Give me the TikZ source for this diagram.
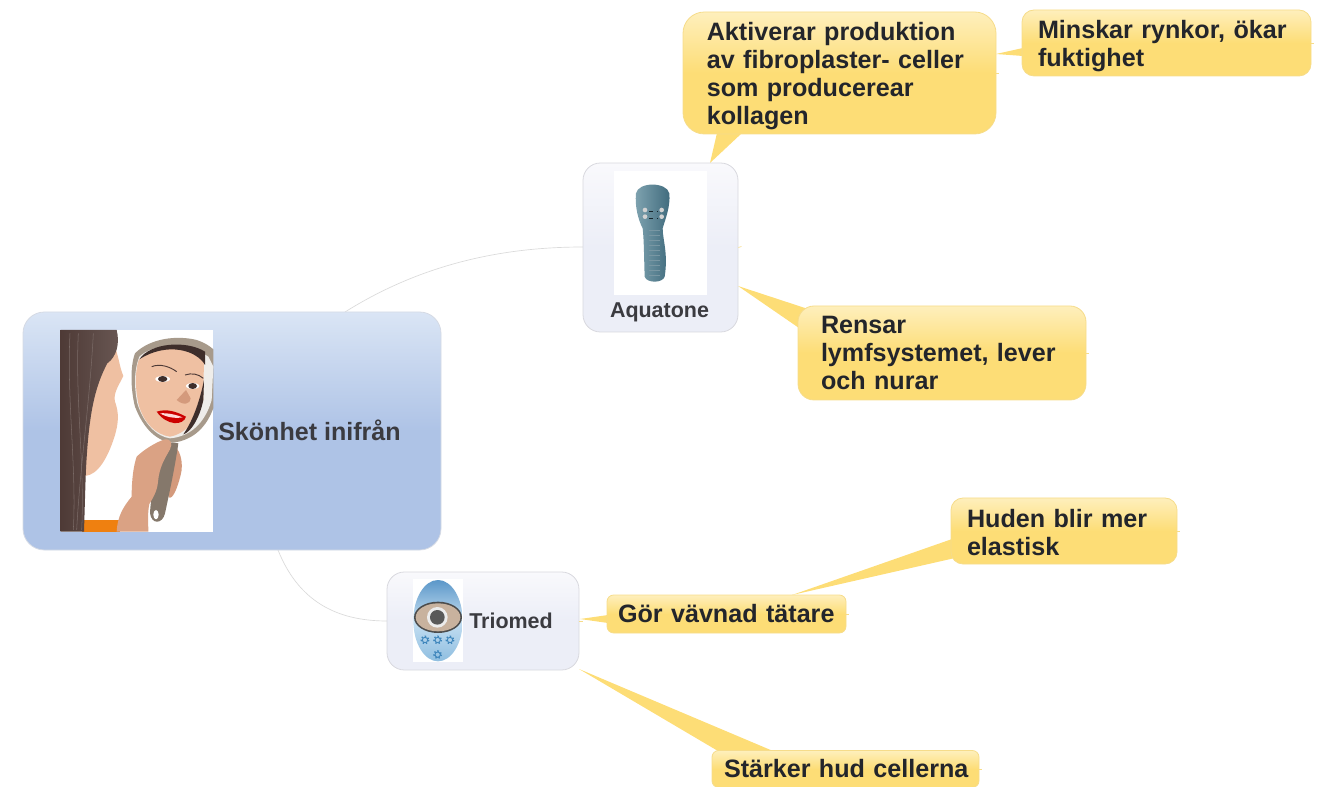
\documentclass[tikz,border=0pt]{standalone}
\usepackage{fontspec}
\setmainfont{Liberation Sans}
\usetikzlibrary{calc}
\definecolor{rootT}{HTML}{DAE5F5}\definecolor{rootB}{HTML}{AEC3E6}
\definecolor{subT}{HTML}{F9F9FC}\definecolor{subB}{HTML}{ECEEF7}
\definecolor{calT}{HTML}{FEEFBC}\definecolor{calB}{HTML}{FDDD76}
\definecolor{calE}{HTML}{F6DC8A}\definecolor{subE}{HTML}{D8D8DE}
\definecolor{rootE}{HTML}{D5DAE4}\definecolor{wire}{HTML}{DADADA}
\definecolor{inkA}{HTML}{3B3B40}\definecolor{inkB}{HTML}{23252B}
\definecolor{skin}{HTML}{EFC0A2}\definecolor{skinD}{HTML}{D49A7C}\definecolor{hairc}{HTML}{4E3A36}\definecolor{hairL}{HTML}{7A6A66}
\definecolor{frame}{HTML}{A79A8B}\definecolor{frameD}{HTML}{85786B}\definecolor{dev}{HTML}{5F8A9A}\definecolor{devL}{HTML}{7FA3B0}\definecolor{devD}{HTML}{3F6A7C}
\definecolor{triT}{HTML}{5B97C9}\definecolor{triM}{HTML}{C5DFF2}\definecolor{triB}{HTML}{8FBEE0}\definecolor{gear}{HTML}{3F86BC}
\pgfdeclareverticalshading{rootsh}{100bp}{color(0bp)=(rootB);color(25bp)=(rootB);color(50bp)=(rootB);color(75bp)=(rootT);color(100bp)=(rootT)}
\pgfdeclareverticalshading{subsh}{100bp}{color(0bp)=(subB);color(25bp)=(subB);color(50bp)=(subB);color(75bp)=(subT);color(100bp)=(subT)}
\pgfdeclareverticalshading{calsh}{100bp}{color(0bp)=(calB);color(25bp)=(calB);color(50bp)=(calB);color(75bp)=(calT);color(100bp)=(calT)}
\tikzset{
 boxbase/.style={rectangle,inner sep=0pt,align=left},
 rootbox/.style={boxbase,shading=rootsh,draw=rootE,line width=.6pt,rounded corners=16pt,minimum width=313.5pt,minimum height=178.5pt},
 subbox/.style={boxbase,shading=subsh,draw=subE,line width=.6pt,rounded corners=13pt},
 callbox/.style={boxbase,shading=calsh,draw=calE,line width=.6pt,text=inkB,font=\fontsize{18.85}{21}\selectfont\bfseries},
 wirel/.style={draw=wire,line width=.5pt},
 tail/.style={fill=calB,draw=none},
 stub/.style={draw=calE,line width=.5pt},
 lab/.style={inner sep=0pt,text=inkA},
}
\begin{document}
\begin{tikzpicture}[x=.75pt,y=-.75pt]
\useasboundingbox (0,0) rectangle (1324,787);
% coordinates for connector ends
\coordinate (rootA) at (345,312);
\coordinate (rootT) at (278,550);
\coordinate (aqIn) at (583,247);
\coordinate (trIn) at (387,621);
% wires
\draw[wirel] (rootA) .. controls (420,265) and (500,247) .. (aqIn);
\draw[wirel] (rootT) .. controls (298,600) and (335,621) .. (trIn);
% tails
\coordinate (t1) at (710,163);\coordinate (t1a) at (717,133);\coordinate (t1b) at (742,133);
\coordinate (t2) at (996,54);\coordinate (t2a) at (1023,48);\coordinate (t2b) at (1023,56);
\coordinate (t3) at (738,286);\coordinate (t3a) at (805,308);\coordinate (t3b) at (799,328);
\coordinate (t4) at (792,595);\coordinate (t4a) at (955,538);\coordinate (t4b) at (955,558);
\coordinate (t5) at (580,619);\coordinate (t5a) at (608,615);\coordinate (t5b) at (608,623);
\coordinate (t6) at (579,669);\coordinate (t6a) at (718,751);\coordinate (t6b) at (773,751);
\fill[tail] (t1)--(t1a)--(t1b)--cycle;
\fill[tail] (t2)--(t2a)--(t2b)--cycle;
\fill[tail] (t3)--(t3a)--(t3b)--cycle;
\fill[tail] (t4)--(t4a)--(t4b)--cycle;
\fill[tail] (t5)--(t5a)--(t5b)--cycle;
\fill[tail] (t6)--(t6a)--(t6b)--cycle;
% boxes
\node[rootbox] (root) at (232,431) {};
\node[subbox,minimum width=116.25pt,minimum height=126.75pt] (aqua) at (660.5,247.5) {};
\node[subbox,minimum width=144pt,minimum height=73.5pt] (trio) at (483,621) {};
\node[callbox,rounded corners=16pt,minimum width=234.75pt,minimum height=91.5pt,text width=199pt] (akt) at (839.5,73)
 {\rule{0pt}{18.2pt}Aktiverar produktion\\av fibroplaster- celler\\som producerear\\kollagen};
\node[callbox,rounded corners=9pt,minimum width=216.75pt,minimum height=49.5pt,text width=192.75pt] (min) at (1166.5,43)
 {\rule{0pt}{18.2pt}Minskar rynkor, ökar\\fuktighet};
\node[callbox,rounded corners=12pt,minimum width=216pt,minimum height=70.5pt,text width=181.5pt] (ren) at (942,353)
 {Rensar\\lymfsystemet, lever\\och nurar};
\node[callbox,rounded corners=9pt,minimum width=169.5pt,minimum height=49.5pt,text width=145.5pt] (hud) at (1064,531)
 {\rule{0pt}{15.2pt}Huden blir mer\\elastisk};
\node[callbox,rounded corners=5pt,minimum width=179.25pt,minimum height=28.5pt,text width=162.75pt] (gor) at (726.5,614)
 {\mbox{Gör vävnad tätare}};
\node[callbox,rounded corners=5pt,minimum width=200.25pt,minimum height=27.75pt,text width=182.25pt] (sta) at (845.5,769)
 {\mbox{Stärker hud cellerna}};
% small stubs
\draw[stub] (aqua.east) -- ++(3,-1);
\draw[stub] (trio.east) -- ++(4,0);
\draw[stub] (akt.east) -- ++(3,0);
\draw[stub] (min.east) -- ++(3,0);
\draw[stub] (ren.east) -- ++(3,0);
\draw[stub] (hud.east) -- ++(3,0);
\draw[stub] (gor.east) -- ++(3,0);
\draw[stub] (sta.east) -- ++(3,0);
% labels
\node[lab,anchor=west,font=\fontsize{18.8}{22}\selectfont\bfseries] (rootl) at (218,430) {Skönhet inifrån};
\node[lab,font=\fontsize{16.1}{19}\selectfont\bfseries] (aqual) at (659.5,312) {Aquatone};
\node[lab,font=\fontsize{16.1}{19}\selectfont\bfseries,anchor=west] (trial) at (469,621) {Triomed};
% mirror photo
\begin{scope}[shift={(20,300)},x=.25pt,y=-.25pt]
\clip (122,90) rectangle (580,695);
\fill[white] (122,90) rectangle (580,695);
\fill[orange!75!brown] (185,660) rectangle (300,695);
\fill[skin] (285,140) .. controls (298,180) and (300,205) .. (310,228) .. controls (300,250) and (278,280) .. (285,305) .. controls (298,340) and (295,370) .. (285,405) .. controls (265,470) and (235,525) .. (195,528) -- (180,300) -- (240,170) -- cycle;
\shade[left color=hairc,right color=hairL!60!hairc] (122,90) -- (290,90) .. controls (300,130) and (290,170) .. (262,190) .. controls (225,260) and (205,340) .. (197,530) -- (192,695) -- (122,695) -- cycle;
\foreach \xa/\xb in {150/160,175/185,220/170}{\draw[hairL,line width=.4pt] (\xa,100) .. controls (\xa-10,300) and (\xb+10,500) .. (\xb,690);}
% mirror
\fill[frame] (345,160) .. controls (390,115) and (470,105) .. (530,120) .. controls (560,130) and (580,145) .. (590,160) -- (590,290) .. controls (570,380) and (520,420) .. (460,428) .. controls (410,425) and (370,385) .. (345,320) .. controls (332,270) and (330,200) .. (345,160) -- cycle;
\fill[white!82!frame] (358,170) .. controls (400,130) and (500,125) .. (565,170) -- (580,200) -- (575,300) .. controls (555,370) and (510,410) .. (450,415) .. controls (410,410) and (370,370) .. (352,310) .. controls (342,260) and (342,210) .. (358,170) -- cycle;
\fill[skin] (356,180) .. controls (420,135) and (500,130) .. (552,165) -- (550,300) .. controls (530,360) and (500,400) .. (450,410) .. controls (410,405) and (370,370) .. (355,310) .. controls (345,260) and (345,215) .. (356,180) -- cycle;
\fill[hairc!80!black] (358,178) .. controls (390,128) and (500,120) .. (555,155) -- (555,195) .. controls (530,150) and (440,125) .. (358,178) -- cycle;
\fill[hairc!80!black] (552,240) -- (550,300) .. controls (540,350) and (515,395) .. (490,403) .. controls (520,360) and (540,300) .. (552,240) -- cycle;
\draw[hairc,line width=.7pt] (395,200) .. controls (420,190) and (450,200) .. (470,215);
\draw[hairc,line width=.7pt] (495,225) .. controls (515,218) and (535,222) .. (550,235);
\fill[white] (428,237) ellipse (22 and 9);\fill[white] (518,258) ellipse (20 and 9);
\fill[hairc!80!black] (428,237) ellipse (14 and 9);
\fill[hairc!80!black] (518,258) ellipse (13 and 9);
\fill[skinD] (470,300) .. controls (490,318) and (512,312) .. (512,295) -- (498,270) -- cycle;
\fill[red!80!black] (410,335) .. controls (440,325) and (470,335) .. (498,350) .. controls (490,378) and (440,378) .. (410,335) -- cycle;
\fill[white!85!red] (420,340) .. controls (445,338) and (470,345) .. (488,352) .. controls (465,356) and (440,352) .. (420,340) -- cycle;
% back fingers
\fill[skinD] (455,435) .. controls (480,440) and (492,490) .. (482,525) .. controls (472,565) and (458,600) .. (446,592) -- (440,500) -- cycle;
% handle
\fill[frameD] (425,425) -- (475,430) .. controls (465,500) and (450,570) .. (435,640) .. controls (428,672) and (395,675) .. (390,640) .. controls (392,590) and (410,500) .. (425,425) -- cycle;
\fill[white] (408,644) ellipse (8 and 14);
% hand
\fill[skinD!80!skin] (290,695) .. controls (292,650) and (310,620) .. (335,590) .. controls (335,540) and (340,500) .. (350,470) .. controls (370,450) and (410,425) .. (435,418) .. controls (455,418) and (458,430) .. (450,448) .. controls (435,475) and (418,500) .. (414,545) .. controls (412,575) and (395,600) .. (388,612) .. controls (382,640) and (385,670) .. (385,695) -- cycle;
\end{scope}
% Aquatone device
\begin{scope}[shift={(570,150)},x=.25pt,y=-.25pt]
\fill[white] (132,62) rectangle (410,435);
\shade[left color=devL,right color=devD] (198,130) .. controls (205,95) and (290,95) .. (298,130) .. controls (302,170) and (285,210) .. (278,235) .. controls (278,270) and (295,310) .. (284,380) .. controls (278,400) and (230,400) .. (224,380) .. controls (222,320) and (222,270) .. (218,235) .. controls (205,210) and (194,170) .. (198,130) -- cycle;
\foreach \yy in {240,255,...,375}{\draw[devD!70!white,line width=.25pt] (238,\yy) -- (270,\yy);}
\foreach \p in {(225,180),(275,180),(225,200),(275,200)}{\fill[gray!35!white] \p circle (7);}
\draw[devD!35!black,dashed,line width=.5pt] (238,185) -- (264,185) (238,205) -- (264,205);
\end{scope}
% Triomed device
\begin{scope}[shift={(380,560)},x=.25pt,y=-.25pt]
\fill[white] (100,58) rectangle (248,305);
\shade[top color=triT,bottom color=triB,middle color=triM] (174,182) ellipse (74 and 122);
\fill[gray!60!black] (174,172) ellipse (72 and 47);
\fill[gray!45!brown!60!white] (174,172) ellipse (67 and 42);
\fill[gray!15!white] (172,172) circle (31);
\fill[gray!70!black] (172,172) circle (22);
\foreach \p in {(135,240),(173,240),(210,240),(173,284)}{\draw[gear,line width=.7pt] \p circle (8); \draw[gear,dash pattern=on 1pt off 1.5pt,line width=1.2pt] \p circle (11);}
\end{scope}
\end{tikzpicture}
\end{document}
